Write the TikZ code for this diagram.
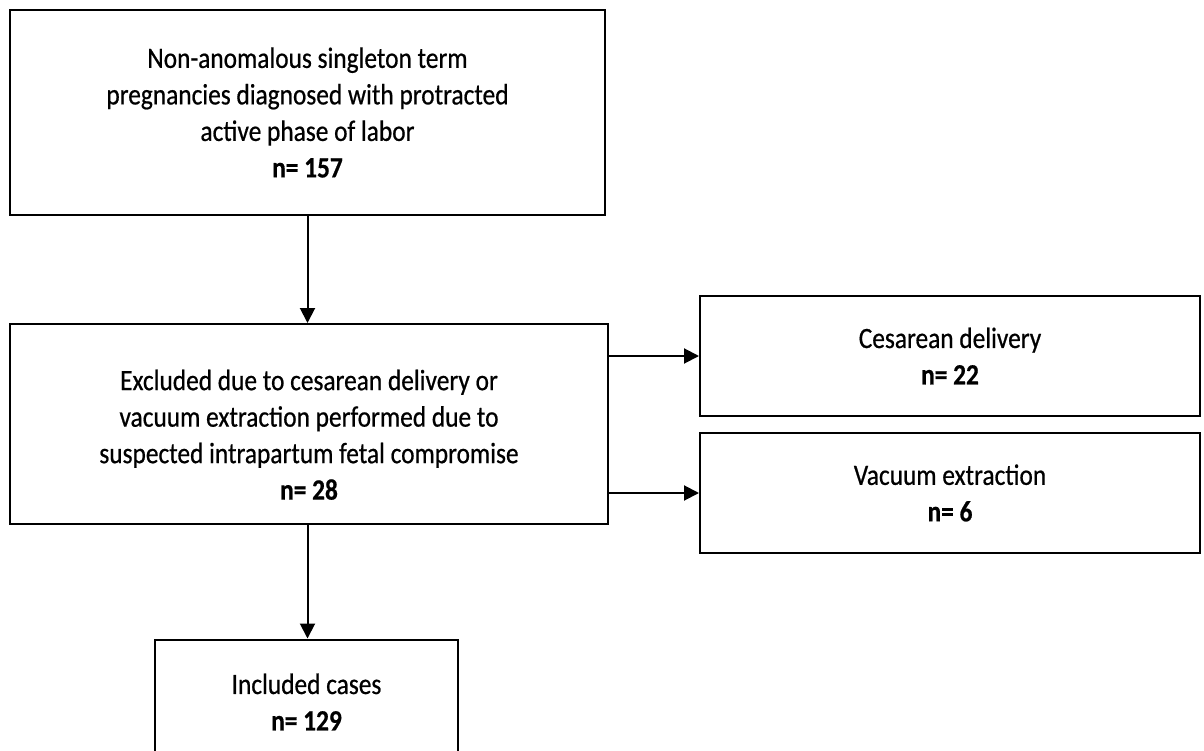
\documentclass[tikz,border=0pt]{standalone}
\usepackage{fontspec}
\setmainfont{Carlito}[FakeStretch=0.86,FakeBold=0.6]
\usetikzlibrary{positioning,arrows.meta}
\tikzset{
  fbox/.style={draw,line width=2pt,rectangle,align=center,inner sep=0pt,
    font=\fontsize{29.5}{36.5}\selectfont},
  flow/.style={-{Triangle[length=15pt,width=15pt]},line width=2pt},
}
\begin{document}
\begin{tikzpicture}[x=1pt,y=-1pt]
  \useasboundingbox (0,0) rectangle (1204,751);
  % boxes
  \node[fbox,minimum width=595pt,minimum height=205pt] (top) at (307.5,112.5)
    {Non-anomalous singleton term\\pregnancies diagnosed with protracted\\active phase of labor\\\textbf{n= 157}};
  \node[fbox,minimum width=598pt,minimum height=200pt] (excl) at (309,424)
    {\rule{0pt}{42pt}Excluded due to cesarean delivery or\\vacuum extraction performed due to\\suspected intrapartum fetal compromise\\\textbf{n= 28}};
  \node[fbox,minimum width=500pt,minimum height=120pt] (cs) at (950,356)
    {Cesarean delivery\\\textbf{n= 22}};
  \node[fbox,minimum width=500pt,minimum height=120pt] (vac) at (950,493)
    {Vacuum extraction\\\textbf{n= 6}};
  \node[fbox,minimum width=303pt,minimum height=125pt] (incl) at (306.5,702)
    {Included cases\\\textbf{n= 129}};
  % connectors
  \draw[flow] (top.south) -- (top.south |- excl.north);
  \draw[flow] (excl.east |- cs.west) -- (cs.west);
  \draw[flow] (excl.east |- vac.west) -- (vac.west);
  \draw[flow] (top.south |- excl.south) -- (top.south |- incl.north);
\end{tikzpicture}
\end{document}
